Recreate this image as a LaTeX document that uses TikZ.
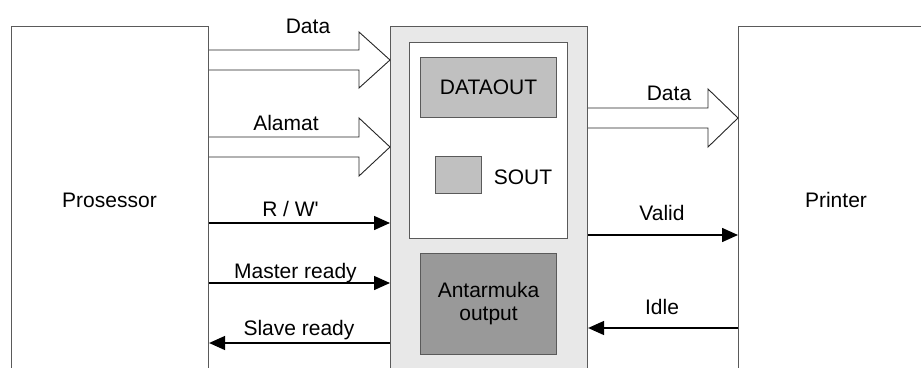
\documentclass[tikz,border=0pt]{standalone}
\usepackage{fontspec}
\setmainfont{Liberation Sans}
\usetikzlibrary{arrows.meta,calc}
\definecolor{boxline}{HTML}{5A5A5A}
\definecolor{ifill}{HTML}{E8E8E8}
\definecolor{lgray}{HTML}{C0C0C0}
\definecolor{dgray}{HTML}{999999}
\tikzset{
  blk/.style={draw=boxline, line width=1.1pt, fill=white, inner sep=0pt, anchor=north west},
  sig/.style={line width=1.5pt, -{Triangle[length=16pt,width=14pt]}},
  fat/.style={draw=black!85, line width=0.9pt, fill=white},
  lbl/.style={anchor=base, inner sep=0pt},
}
\begin{document}
\begin{tikzpicture}[x=1pt,y=-1pt,font=\fontsize{21}{23}\selectfont]
\clip (0,0) rectangle (921,367);
\fill[white] (0,0) rectangle (921,367);
% main blocks
\node[blk, minimum width=197pt, minimum height=360pt] (proc) at (11,26) {};
\node[blk, fill=ifill, minimum width=197pt, minimum height=360pt] (iface) at (390,26) {};
\node[blk, minimum width=200pt, minimum height=360pt] (prn) at (738,26) {};
\node[blk, minimum width=158pt, minimum height=196pt] (inner) at (409,42) {};
\node[blk, fill=lgray, minimum width=136pt, minimum height=60pt] (dout) at (420,57) {DATAOUT};
\node[blk, fill=lgray, minimum width=46pt, minimum height=37pt] (sout) at (435,156) {};
\node[blk, fill=dgray, minimum width=136pt, minimum height=101pt, align=center] (ant) at (420,253) {Antarmuka\\output};
\node[lbl] (soutl) at (523,184) {SOUT};
\node[lbl] (procl) at (109.5,207) {Prosessor};
\node[lbl] (prnl) at (836,207) {Printer};
% wide arrows
\draw[fat] (proc.east |- 0,50) -- (359,50) -- (359,32) -- (iface.west |- 0,60) -- (359,88) -- (359,70) -- (proc.east |- 0,70);
\draw[fat] (proc.east |- 0,137) -- (359,137) -- (359,118) -- (iface.west |- 0,147) -- (359,176) -- (359,157) -- (proc.east |- 0,157);
\draw[fat] (iface.east |- 0,108) -- (708,108) -- (708,89) -- (prn.west |- 0,118) -- (708,147) -- (708,128) -- (iface.east |- 0,128);
\node[lbl] (l1) at (308,33) {Data};
\node[lbl] (l2) at (286,130) {Alamat};
\node[lbl] (l3) at (669,100) {Data};
% signal arrows
\draw[sig] (proc.east |- 0,223) -- (iface.west |- 0,223);
\draw[sig] (proc.east |- 0,283) -- (iface.west |- 0,283);
\draw[sig] (iface.west |- 0,343) -- (proc.east |- 0,343);
\draw[sig] (iface.east |- 0,235) -- (prn.west |- 0,235);
\draw[sig] (prn.west |- 0,328) -- (iface.east |- 0,328);
\node[lbl] (l4) at (290.5,216) {R / W\textquotesingle};
\node[lbl] (l5) at (295.5,278) {Master ready};
\node[lbl] (l6) at (299,335) {Slave ready};
\node[lbl] (l7) at (662,220) {Valid};
\node[lbl] (l8) at (662,314) {Idle};
\end{tikzpicture}
\end{document}
